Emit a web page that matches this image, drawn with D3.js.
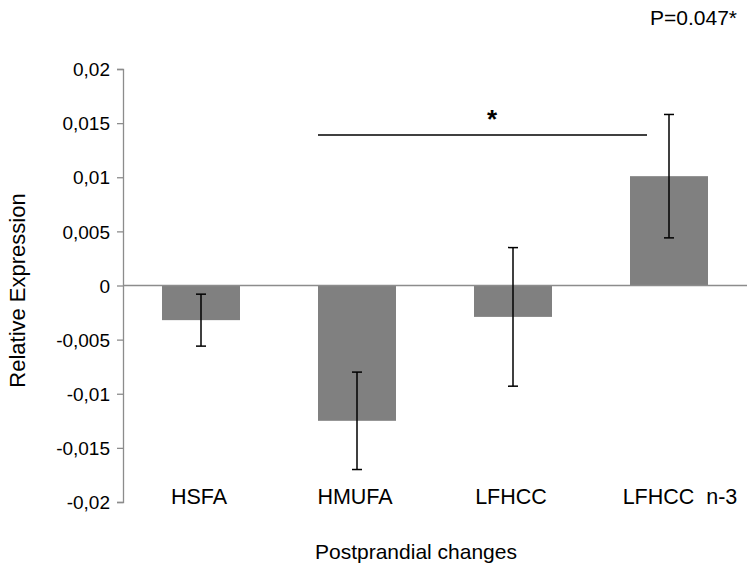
<!DOCTYPE html>
<html>
<head>
<meta charset="utf-8">
<script type="text/javascript" src="https://cdn.jsdelivr.net/npm/d3@7/dist/d3.min.js"></script>
<style>
  body { margin: 0; background: white; }
  text { font-family: "Liberation Sans", Arial, sans-serif; }
</style>
</head>
<body>
<script>

var width = 747,
    height = 569;

// data
var categories = ["HSFA", "HMUFA", "LFHCC", "LFHCC  n-3"];
var means      = [-0.0032, -0.0125, -0.0029, 0.0101];
var errors     = [0.0024, 0.0045, 0.0064, 0.0057];
var yTicks     = [-0.02, -0.015, -0.01, -0.005, 0, 0.005, 0.01, 0.015, 0.02];
var sigY       = 0.0139;

var margin = {left: 123, right: 0, top: 69, bottom: 67};

var svg = d3.select("body")
            .append("svg")
            .attr("width", width)
            .attr("height", height);

var x = d3.scaleBand()
          .domain(categories)
          .range([margin.left, width - margin.right])
          .paddingInner(0.5)
          .paddingOuter(0.25);

var y = d3.scaleLinear()
          .domain([-0.02, 0.02])
          .range([height - margin.bottom, margin.top]);

// excel style labels: comma decimal, plain hyphen minus
var fmt = function (d) { return d === 0 ? "0" : String(+d.toFixed(3)).replace(".", ","); };

// y axis
var yAxis = d3.axisLeft(y)
              .tickValues(yTicks)
              .tickSize(6)
              .tickFormat(fmt);

var yg = svg.append("g")
            .attr("transform", "translate(" + margin.left + ",0)")
            .call(yAxis);
yg.select(".domain").attr("stroke", "#8c8c8c").attr("stroke-width", 1.3);
yg.selectAll(".tick line").attr("stroke", "#8c8c8c").attr("stroke-width", 1.3);
yg.selectAll(".tick text")
  .attr("x", -13)
  .attr("dy", "0.35em")
  .style("font-size", "19px")
  .style("fill", "#000");

// bars
svg.append("g")
   .selectAll("rect")
   .data(categories)
   .enter()
   .append("rect")
   .attr("x", function (d) { return x(d); })
   .attr("width", x.bandwidth())
   .attr("y", function (d, i) { return y(Math.max(0, means[i])); })
   .attr("height", function (d, i) { return Math.abs(y(means[i]) - y(0)); })
   .style("fill", "#808080");

// zero line
svg.append("line")
   .attr("x1", margin.left)
   .attr("x2", width)
   .attr("y1", y(0))
   .attr("y2", y(0))
   .attr("stroke", "#8c8c8c")
   .attr("stroke-width", 1.3);

// error bars
var eb = svg.append("g")
            .selectAll("g")
            .data(categories)
            .enter()
            .append("g")
            .attr("stroke", "#000")
            .attr("stroke-width", 1.5);

eb.append("line")
  .attr("x1", function (d) { return x(d) + x.bandwidth() / 2; })
  .attr("x2", function (d) { return x(d) + x.bandwidth() / 2; })
  .attr("y1", function (d, i) { return y(means[i] + errors[i]); })
  .attr("y2", function (d, i) { return y(means[i] - errors[i]); });

[1, -1].forEach(function (s) {
  eb.append("line")
    .attr("x1", function (d) { return x(d) + x.bandwidth() / 2 - 5; })
    .attr("x2", function (d) { return x(d) + x.bandwidth() / 2 + 5; })
    .attr("y1", function (d, i) { return y(means[i] + s * errors[i]); })
    .attr("y2", function (d, i) { return y(means[i] + s * errors[i]); });
});

// category labels (the last one sits a bit right of its bar in the original)
svg.append("g")
   .selectAll("text")
   .data(categories)
   .enter()
   .append("text")
   .attr("x", function (d) { return x(d) + x.bandwidth() / 2; })
   .attr("dx", function (d, i) { return i === categories.length - 1 ? 11 : -2; })
   .attr("y", 504)
   .attr("text-anchor", "middle")
   .style("font-size", "21.5px")
   .style("white-space", "pre")
   .attr("xml:space", "preserve")
   .text(function (d) { return d; });

// significance bar
svg.append("line")
   .attr("x1", x("HMUFA"))
   .attr("x2", x("LFHCC  n-3") + 17)
   .attr("y1", y(sigY))
   .attr("y2", y(sigY))
   .attr("stroke", "#000")
   .attr("stroke-width", 1.5);

svg.append("text")
   .attr("x", 492)
   .attr("y", y(sigY) - 7)
   .attr("text-anchor", "middle")
   .style("font-size", "26px")
   .style("font-weight", "bold")
   .text("*");

svg.append("text")
   .attr("x", 737)
   .attr("y", 25)
   .attr("text-anchor", "end")
   .style("font-size", "21px")
   .text("P=0.047*");

// axis titles
svg.append("text")
   .attr("x", 416)
   .attr("y", 559)
   .attr("text-anchor", "middle")
   .style("font-size", "21px")
   .text("Postprandial changes");

svg.append("text")
   .attr("transform", "translate(25," + (y(0) + 5) + ") rotate(-90)")
   .attr("text-anchor", "middle")
   .style("font-size", "22px")
   .text("Relative Expression");

</script>
</body>
</html>
